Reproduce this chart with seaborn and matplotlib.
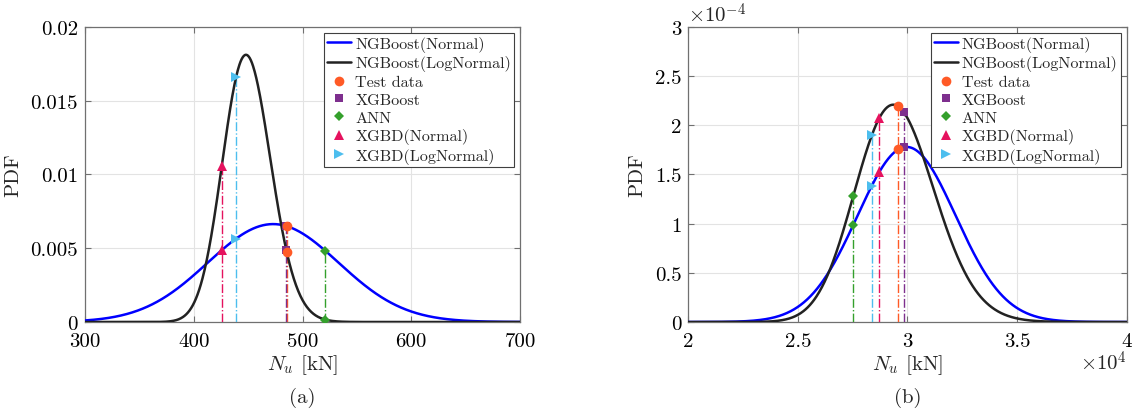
import numpy as np
import pandas as pd
import matplotlib
matplotlib.use("Agg")
import matplotlib.pyplot as plt
import seaborn as sns
from matplotlib.lines import Line2D

# ---------------- data ----------------
# panel (a): distribution parameters
a_normal_mean = 473.0
a_normal_sd = 60.1
a_logn_mu = 6.1072
a_logn_s = 0.0491
a_pred_names = ["Test data", "XGBoost", "ANN", "XGBD(Normal)", "XGBD(LogNormal)"]
a_pred_x = [485.5, 485.0, 520.7, 425.7, 438.9]

# panel (b)
b_normal_mean = 29960.0
b_normal_sd = 2241.0
b_logn_mu = 10.2908
b_logn_s = 0.0614
b_pred_x = [29580.0, 29840.0, 27530.0, 28710.0, 28370.0]

a_xticks = [300, 400, 500, 600, 700]
a_yticks = [0, 0.005, 0.01, 0.015, 0.02]
b_xticks = [20000, 25000, 30000, 35000, 40000]
b_yticks = [0, 0.5e-4, 1e-4, 1.5e-4, 2e-4, 2.5e-4, 3e-4]

# styles
pred_colors = ["#FF5A26", "#7E2F8E", "#34A02C", "#E5125E", "#4DBEEE"]
pred_markers = ["o", "s", "D", "^", ">"]
pred_msize = [7, 6, 5.5, 7, 7]
pred_z = [8, 7, 6, 6, 6]
FS = 15


def npdf(x, m, s):
    x = np.asarray(x, float)
    return np.exp(-0.5 * ((x - m) / s) ** 2) / (s * np.sqrt(2 * np.pi))


def lnpdf(x, mu, s):
    x = np.asarray(x, float)
    return np.exp(-0.5 * ((np.log(x) - mu) / s) ** 2) / (x * s * np.sqrt(2 * np.pi))


sns.set_theme(style="whitegrid")
plt.rcParams.update({
    "font.family": ["serif"],
    "font.serif": ["cmr10", "DejaVu Serif"],
    "mathtext.fontset": "cm",
    "axes.formatter.use_mathtext": True,
    "axes.unicode_minus": False,
})

fig = plt.figure(figsize=(11.32, 4.14), dpi=100)
axA = fig.add_axes([0.0751, 0.2198, 0.3843, 0.7126])
axB = fig.add_axes([0.6080, 0.2198, 0.3873, 0.7126])


def draw(ax, xgrid, nm, ns, lmu, ls, preds):
    yn = npdf(xgrid, nm, ns)
    yl = lnpdf(xgrid, lmu, ls)
    df = pd.DataFrame({"x": np.concatenate([xgrid, xgrid]),
                       "y": np.concatenate([yn, yl]),
                       "dist": ["NGBoost(Normal)"] * len(xgrid) + ["NGBoost(LogNormal)"] * len(xgrid)})
    for px, c in zip(preds, pred_colors):
        top = max(npdf(px, nm, ns), lnpdf(px, lmu, ls))
        ax.plot([px, px], [0, top], color=c, lw=1.0, ls="-.", zorder=3)
    sns.lineplot(data=df, x="x", y="y", hue="dist",
                 palette={"NGBoost(Normal)": "#0000FF", "NGBoost(LogNormal)": "#222222"},
                 lw=1.8, ax=ax, legend=False, zorder=4)
    for px, c, m, ms, z in zip(preds, pred_colors, pred_markers, pred_msize, pred_z):
        ys = [npdf(px, nm, ns), lnpdf(px, lmu, ls)]
        ax.plot([px, px], ys, ls="none", marker=m, color=c, markersize=ms, zorder=z,
                markeredgewidth=0)
    handles = [Line2D([], [], color="#0000FF", lw=1.8), Line2D([], [], color="#222222", lw=1.8)]
    for c, m, ms in zip(pred_colors, pred_markers, pred_msize):
        handles.append(Line2D([], [], ls="none", marker=m, color=c, markersize=ms, markeredgewidth=0))
    labels = ["NGBoost(Normal)", "NGBoost(LogNormal)"] + a_pred_names
    leg = ax.legend(handles, labels, loc="upper right", fontsize=11.6, frameon=True,
                    fancybox=False, edgecolor="#404040", framealpha=1,
                    handlelength=1.5, handletextpad=0.25, labelspacing=0.22,
                    borderpad=0.2, borderaxespad=0.35)
    leg.get_frame().set_linewidth(0.8)


def style(ax):
    ax.set_facecolor("white")
    ax.grid(True, color="#E3E3E3", lw=0.8)
    for s in ax.spines.values():
        s.set_color("#707070")
        s.set_linewidth(0.9)
        s.set_visible(True)
    ax.tick_params(direction="in", length=4, width=0.8, colors="#707070",
                   labelsize=FS, top=True, right=True, labelcolor="black",
                   bottom=True, left=True, pad=5)
    ax.tick_params(axis="x", pad=7)
    ax.set_xlabel("$N_u$ [kN]", fontsize=FS, labelpad=2)
    ax.set_ylabel("PDF", fontsize=FS, labelpad=6)


xa = np.linspace(300, 700, 801)
draw(axA, xa, a_normal_mean, a_normal_sd, a_logn_mu, a_logn_s, a_pred_x)
axA.set_xlim(300, 700)
axA.set_ylim(0, 0.02)
axA.set_xticks(a_xticks)
axA.set_yticks(a_yticks)
axA.set_yticklabels(["0", "0.005", "0.01", "0.015", "0.02"])
axA.set_xticklabels([str(v) for v in a_xticks])
style(axA)

xb = np.linspace(20000, 40000, 801)
draw(axB, xb, b_normal_mean, b_normal_sd, b_logn_mu, b_logn_s, b_pred_x)
axB.set_xlim(20000, 40000)
axB.set_ylim(0, 3e-4)
axB.set_xticks(b_xticks)
axB.set_yticks(b_yticks)
axB.set_xticklabels(["2", "2.5", "3", "3.5", "4"])
axB.set_yticklabels(["0", "0.5", "1", "1.5", "2", "2.5", "3"])
style(axB)
axB.text(0.0, 1.005, r"$\times10^{-4}$", transform=axB.transAxes, fontsize=FS,
         ha="left", va="bottom")
axB.text(1.0, -0.095, r"$\times10^{4}$", transform=axB.transAxes, fontsize=FS,
         ha="right", va="top")

fig.text((0.0751 + 0.0751 + 0.3843) / 2, 0.04, "(a)", fontsize=FS, ha="center", va="center")
fig.text((0.6080 + 0.6080 + 0.3873) / 2, 0.04, "(b)", fontsize=FS, ha="center", va="center")

fig.savefig("out.png", dpi=100)
